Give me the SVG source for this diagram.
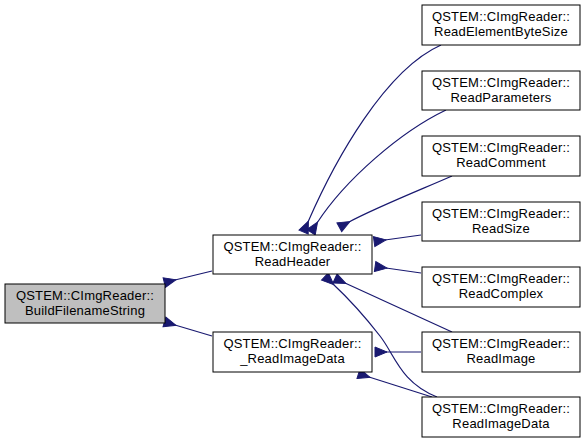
<svg xmlns="http://www.w3.org/2000/svg" width="587" height="443" viewBox="0 0 587 443">
<style>
.n rect{fill:#fff;stroke:#000;stroke-width:1}
.n.hl rect{fill:#bfbfbf}
.n text{font-family:"Liberation Sans",Arial,sans-serif;font-size:13px;text-anchor:middle;fill:#000;letter-spacing:0.2px}
.e > path{fill:none;stroke:#191970;stroke-width:1.2}
</style>
<defs>
<marker id="ah" viewBox="-1 -1 14 12" refX="1" refY="5" markerWidth="14" markerHeight="12" markerUnits="userSpaceOnUse" orient="auto">
<path d="M12,0 L0,5 L12,10 Z" style="fill:#191970;stroke:#191970;stroke-width:1"/>
</marker>
</defs>
<rect width="587" height="443" fill="#fff"/>
<g id="edges" class="e">
<path d="M212,271 L175,280" marker-end="url(#ah)"/>
<path d="M212,336 L175,325" marker-end="url(#ah)"/>
<path d="M441,45 C385,70 335,160 308,222" marker-end="url(#ah)"/>
<path d="M446,110 C400,132 345,180 317,223" marker-end="url(#ah)"/>
<path d="M452,176 C420,190 375,208 349,222" marker-end="url(#ah)"/>
<path d="M421,235 L385,240" marker-end="url(#ah)"/>
<path d="M421,273 L386,268" marker-end="url(#ah)"/>
<path d="M452,332 L345,283" marker-end="url(#ah)"/>
<path d="M437,397 C400,382 395,355 380,336 C366,318 348,298 333,284" marker-end="url(#ah)"/>
<path d="M421,352 L386,352" marker-end="url(#ah)"/>
<path d="M432,397 L369,377" marker-end="url(#ah)"/>
</g>
<g id="BuildFilenameString" class="n hl"><rect x="5" y="284" width="160" height="39"/><text x="85" y="300">QSTEM::CImgReader::</text><text x="85" y="315">BuildFilenameString</text></g>
<g id="ReadHeader" class="n"><rect x="213" y="235" width="159" height="39"/><text x="292.5" y="251">QSTEM::CImgReader::</text><text x="292.5" y="266">ReadHeader</text></g>
<g id="_ReadImageData" class="n"><rect x="213" y="332" width="159" height="40"/><text x="292.5" y="348">QSTEM::CImgReader::</text><text x="292.5" y="363">_ReadImageData</text></g>
<g id="ReadElementByteSize" class="n"><rect x="422" y="5" width="158" height="40"/><text x="501" y="21">QSTEM::CImgReader::</text><text x="501" y="36">ReadElementByteSize</text></g>
<g id="ReadParameters" class="n"><rect x="422" y="71" width="158" height="39"/><text x="501" y="87">QSTEM::CImgReader::</text><text x="501" y="102">ReadParameters</text></g>
<g id="ReadComment" class="n"><rect x="422" y="136" width="158" height="40"/><text x="501" y="152">QSTEM::CImgReader::</text><text x="501" y="167">ReadComment</text></g>
<g id="ReadSize" class="n"><rect x="422" y="202" width="158" height="39"/><text x="501" y="218">QSTEM::CImgReader::</text><text x="501" y="233">ReadSize</text></g>
<g id="ReadComplex" class="n"><rect x="422" y="267" width="158" height="40"/><text x="501" y="283">QSTEM::CImgReader::</text><text x="501" y="298">ReadComplex</text></g>
<g id="ReadImage" class="n"><rect x="422" y="332" width="158" height="40"/><text x="501" y="348">QSTEM::CImgReader::</text><text x="501" y="363">ReadImage</text></g>
<g id="ReadImageData" class="n"><rect x="422" y="397" width="158" height="40"/><text x="501" y="413">QSTEM::CImgReader::</text><text x="501" y="428">ReadImageData</text></g>
</svg>
